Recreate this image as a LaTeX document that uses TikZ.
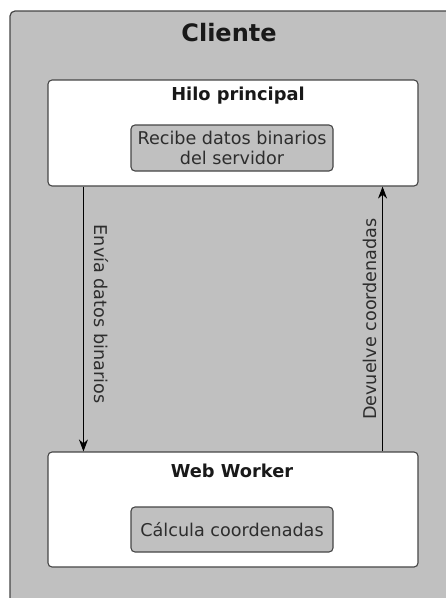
\documentclass[tikz,border=0pt]{standalone}
\usepackage{fontspec}
\setmainfont{DejaVu Sans}
\usetikzlibrary{arrows.meta}
\definecolor{panel}{RGB}{192,192,192}
\definecolor{edge}{RGB}{70,70,70}
\definecolor{ink}{RGB}{45,45,45}
\tikzset{
  lane/.style={draw=edge, line width=1.1pt, fill=white, rounded corners=4pt,
    minimum width=370pt, inner sep=0pt},
  task/.style={draw=edge, line width=1.1pt, fill=panel, rounded corners=4pt,
    minimum width=202pt, inner sep=0pt, align=center, text=ink,
    font=\fontsize{17.6}{20}\selectfont},
  heading/.style={font=\bfseries\fontsize{17.8}{20}\selectfont, text=black!90},
  flow/.style={draw=black, line width=0.9pt, -{Stealth[length=12pt,width=9pt]}},
  flowlabel/.style={text=ink, font=\fontsize{17.6}{20}\selectfont, inner sep=0pt}
}
\begin{document}
\begin{tikzpicture}[x=1pt,y=-1pt]
\useasboundingbox (0,0) rectangle (446,598);
\clip (0,0) rectangle (446,598);
% client container
\draw[draw=edge, line width=1.2pt, fill=panel, rounded corners=5pt] (10,11) rectangle (480,640);
\node[font=\bfseries\fontsize{24}{27}\selectfont, text=black!90] (cliente) at (229,33) {Cliente};
% main thread
\node[lane, minimum height=106pt] (hilo) at (233,133) {};
\node[heading] (hilot) at (238,96) {Hilo principal};
\node[task, minimum height=46pt] (recibe) at (232,148) {Recibe datos binarios\\del servidor};
% worker
\node[lane, minimum height=115pt] (web) at (233,509.5) {};
\node[heading] (webt) at (232,471) {Web Worker};
\node[task, minimum height=45pt] (calc) at (232,529.5) {Cálcula coordenadas};
% messages between the two threads
\draw[flow] ([xshift=36pt]hilo.south west) -- ([xshift=36pt]web.north west);
\draw[flow] ([xshift=-36pt]web.north east) -- ([xshift=-36pt]hilo.south east);
\node[flowlabel, rotate=-90] (envia) at (101,314) {Envía datos binarios};
\node[flowlabel, rotate=90] (devuelve) at (370,319) {Devuelve coordenadas};
\end{tikzpicture}
\end{document}
